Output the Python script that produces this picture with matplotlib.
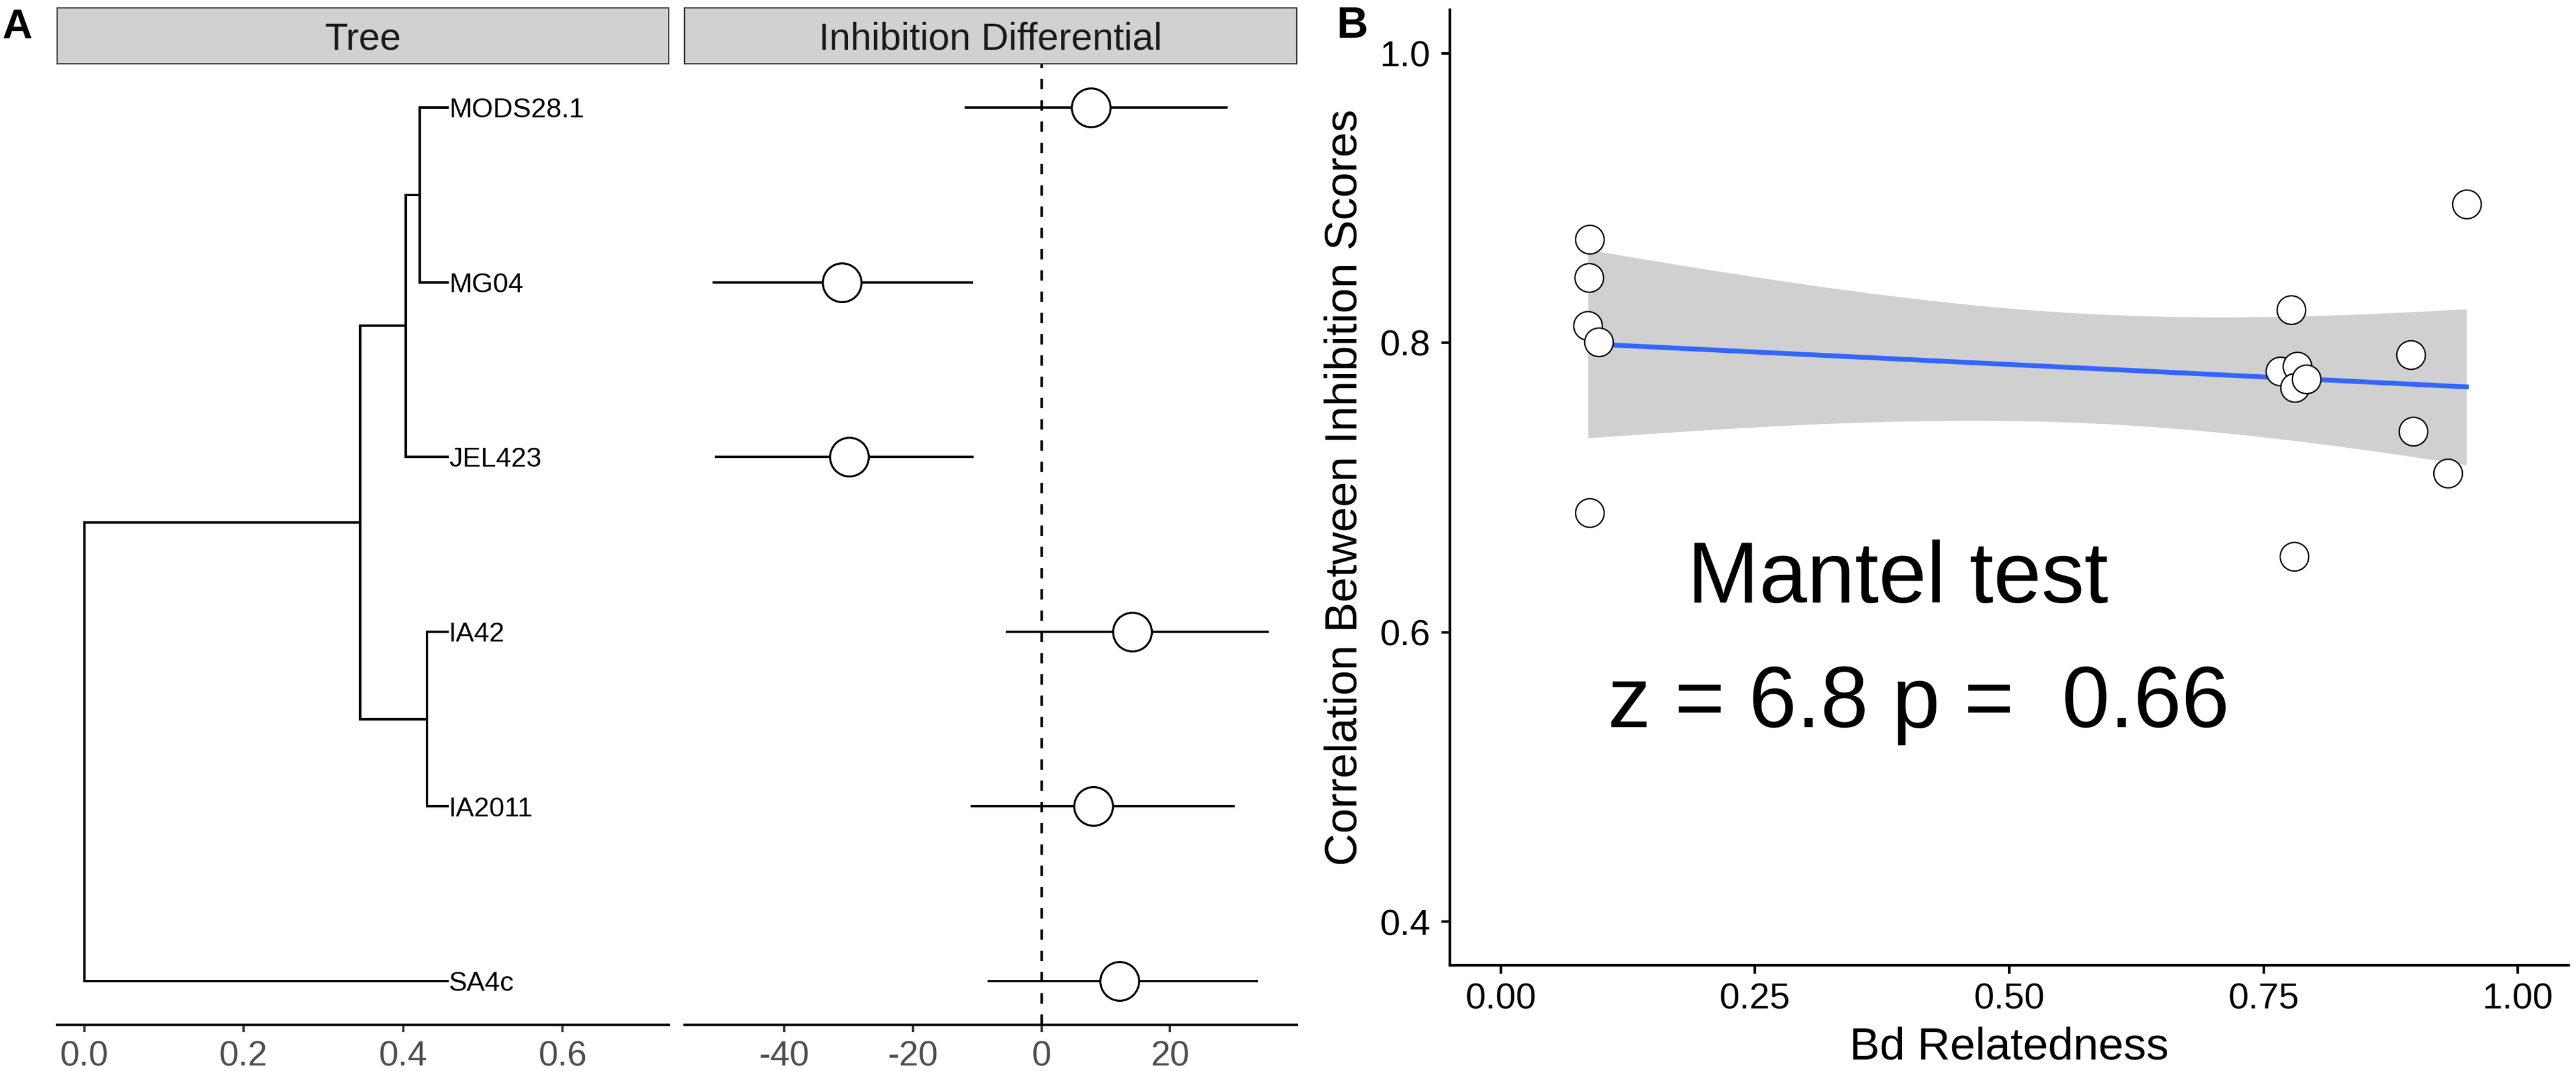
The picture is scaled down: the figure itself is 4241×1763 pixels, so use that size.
import numpy as np
import matplotlib
matplotlib.use("Agg")
import matplotlib.pyplot as plt

plt.rcParams['font.family'] = ['Liberation Sans', 'DejaVu Sans']
plt.rcParams['axes.unicode_minus'] = False

# ---- panel A data: tree (tips listed bottom to top) ----
tips = ['SA4c', 'IA2011', 'IA42', 'JEL423', 'MG04', 'MODS28.1']
tip_depth = 0.4556
node_depth = {'root': 0.0, 'clade': 0.346, 'jel_node': 0.403,
              'mods_node': 0.421, 'ia_node': 0.430}
edges = [('root', 'clade'), ('root', 'SA4c'),
         ('clade', 'jel_node'), ('clade', 'ia_node'),
         ('jel_node', 'mods_node'), ('jel_node', 'JEL423'),
         ('mods_node', 'MODS28.1'), ('mods_node', 'MG04'),
         ('ia_node', 'IA42'), ('ia_node', 'IA2011')]

# inhibition differential per tip (same order as tips)
inh_est = [12.15, 8.1, 14.1, -29.9, -31.1, 7.7]
inh_low = [-8.4, -11.0, -5.5, -50.8, -51.2, -12.0]
inh_high = [33.7, 30.1, 35.4, -10.5, -10.6, 29.0]

# ---- panel B data ----
bd_relatedness = [0.0876, 0.0866, 0.0856, 0.0961, 0.0876,
                  0.7773, 0.7666, 0.7831, 0.7805, 0.7920, 0.7800,
                  0.8950, 0.8970, 0.9310, 0.9495]
inh_corr = [0.8712, 0.8450, 0.8117, 0.8005, 0.6826,
            0.8226, 0.7805, 0.7837, 0.7690, 0.7750, 0.6525,
            0.7917, 0.7387, 0.7098, 0.8956]
mantel_lines = ['Mantel test', 'z = 6.8 p =  0.66']

W, H = 4241, 1763
fig = plt.figure(figsize=(W / 300, H / 300), dpi=300)


def fig_rect(x0, y0, x1, y1):
    # pixel box (top-left origin) -> figure fraction
    return [x0 / W, 1 - y1 / H, (x1 - x0) / W, (y1 - y0) / H]


GREY30 = '#4D4D4D'
GREY20 = '#333333'

# ---- tree coordinates ----
ypos = {t: i + 1 for i, t in enumerate(tips)}
xpos = {t: tip_depth for t in tips}
xpos.update(node_depth)
children = {}
for p, c in edges:
    children.setdefault(p, []).append(c)


def node_y(n):
    if n in ypos:
        return ypos[n]
    ypos[n] = np.mean([node_y(c) for c in children[n]])
    return ypos[n]


node_y('root')

ax_tree = fig.add_axes(fig_rect(94, 105, 1101, 1687))
hl = ax_tree.hlines([ypos[c] for p, c in edges], [xpos[p] for p, c in edges],
                    [xpos[c] for p, c in edges], color='black', lw=0.95)
vl = ax_tree.vlines([xpos[n] for n in children],
                    [min(ypos[c] for c in children[n]) for n in children],
                    [max(ypos[c] for c in children[n]) for n in children],
                    color='black', lw=0.95)
hl.set_capstyle('projecting')
vl.set_capstyle('projecting')
for t in tips:
    ax_tree.annotate(t, (xpos[t], ypos[t]), xytext=(0.6, -3.9),
                     textcoords='offset points', va='baseline', ha='left',
                     fontsize=10.8, color='black')
ax_tree.set_xlim(-0.034, 0.733)
ax_tree.set_ylim(0.75, 6.25)
ax_tree.set_xticks([0.0, 0.2, 0.4, 0.6])
ax_tree.set_xticklabels(['0.0', '0.2', '0.4', '0.6'])
ax_tree.set_yticks([])

# ---- forest panel ----
ax_inh = fig.add_axes(fig_rect(1127, 105, 2135, 1687))
y_rows = [ypos[t] for t in tips]
ax_inh.axvline(0, color='black', lw=1.0, dashes=(4.1, 4.3), zorder=1)
ax_inh.hlines(y_rows, inh_low, inh_high, color='black', lw=0.9, zorder=2)
ax_inh.plot(inh_est, y_rows, 'o', ms=15.3, mfc='white', mec='black',
            mew=0.8, zorder=3)
lo, hi = min(inh_low), max(inh_high)
pad = 0.05 * (hi - lo)
ax_inh.set_xlim(lo - pad, hi + pad)
ax_inh.set_ylim(0.75, 6.25)
ax_inh.set_xticks([-40, -20, 0, 20])
ax_inh.set_yticks([])

for ax in (ax_tree, ax_inh):
    for s in ('top', 'right', 'left'):
        ax.spines[s].set_visible(False)
    ax.spines['bottom'].set_linewidth(1.0)
    ax.tick_params(axis='x', length=2.8, width=0.9, color=GREY20, pad=3.4,
                   labelsize=13.8, labelcolor=GREY30)
    ax.patch.set_alpha(0)

# strips
for (x0, x1), title in [((94, 1101), 'Tree'),
                        ((1127, 2135), 'Inhibition Differential')]:
    sax = fig.add_axes(fig_rect(x0, 13, x1, 105))
    sax.set_xticks([])
    sax.set_yticks([])
    sax.set_facecolor('#D1D1D1')
    for s in sax.spines.values():
        s.set_color(GREY20)
        s.set_linewidth(0.5)
    sax.text(0.5, 0.255, title, ha='center', va='baseline', fontsize=15,
             color='#1A1A1A', transform=sax.transAxes)

# ---- panel B ----
axb = fig.add_axes(fig_rect(2387, 16, 4229, 1589))
x = np.array(bd_relatedness)
y = np.array(inh_corr)
n = len(x)
slope, intercept = np.polyfit(x, y, 1)
xg = np.linspace(x.min(), x.max(), 80)
fit = intercept + slope * xg
resid = y - (intercept + slope * x)
s_err = np.sqrt(np.sum(resid ** 2) / (n - 2))
sxx = np.sum((x - x.mean()) ** 2)
se = s_err * np.sqrt(1 / n + (xg - x.mean()) ** 2 / sxx)
t_crit = 2.1604  # t quantile 0.975, df = 13
axb.fill_between(xg, fit - t_crit * se, fit + t_crit * se, color='#D0D0D0',
                 lw=0, zorder=1)
axb.plot(xg, fit, color='#3366FF', lw=1.9, zorder=2)
axb.plot(x, y, 'o', ms=11.3, mfc='white', mec='black', mew=0.55, zorder=3)

axb.text(0.3905, 0.6206, mantel_lines[0], ha='center', va='baseline',
         fontsize=34, color='black')
axb.text(0.411, 0.5345, mantel_lines[1], ha='center', va='baseline',
         fontsize=34, color='black')

axb.set_xlim(-0.05, 1.05)
axb.set_ylim(0.37, 1.03)
axb.set_xticks([0.0, 0.25, 0.5, 0.75, 1.0])
axb.set_xticklabels(['0.00', '0.25', '0.50', '0.75', '1.00'])
axb.set_yticks([0.4, 0.6, 0.8, 1.0])
axb.set_yticklabels(['0.4', '0.6', '0.8', '1.0'])
for s in ('top', 'right'):
    axb.spines[s].set_visible(False)
for s in ('left', 'bottom'):
    axb.spines[s].set_linewidth(1.0)
axb.tick_params(axis='x', length=3.4, width=1.0, pad=3.4, labelsize=14.4,
                colors='black')
axb.tick_params(axis='y', length=3.4, width=1.0, pad=4.3, labelsize=14.4,
                colors='black')
axb.set_xlabel('Bd Relatedness', fontsize=17.9, va='baseline')
axb.xaxis.set_label_coords(0.5, (1589 - 1743) / 1573)
axb.set_ylabel('Correlation Between Inhibition Scores', fontsize=17.9,
               va='center')
axb.yaxis.set_label_coords((2214.5 - 2387) / 1842, 0.5)
axb.patch.set_alpha(0)

# panel letters
fig.text(3.5 / W, 1 - 63 / H, 'A', fontsize=16.5, fontweight='bold',
         va='baseline', ha='left')
fig.text(2200 / W, 1 - 61.7 / H, 'B', fontsize=17.2, fontweight='bold',
         va='baseline', ha='left')

fig.savefig('out.png', dpi=300, facecolor='white')
